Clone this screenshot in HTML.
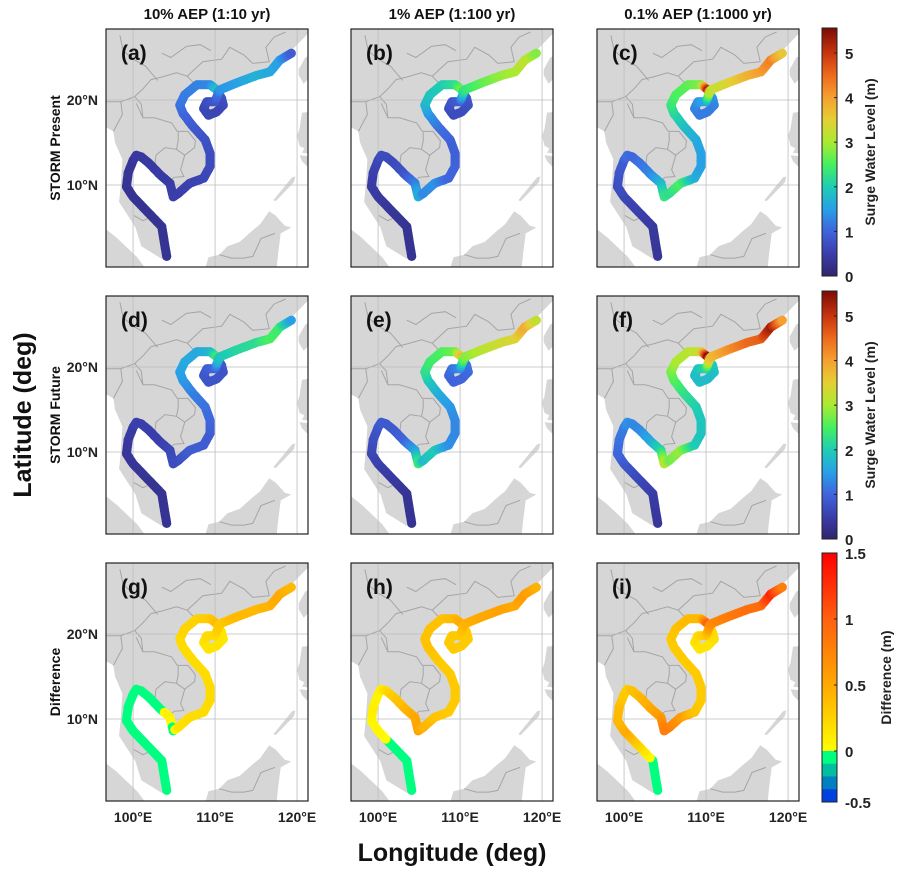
<!DOCTYPE html>
<html><head><meta charset="utf-8"><style>
body{margin:0;background:#fff}
svg{display:block;font-family:"Liberation Sans",Arial,sans-serif}
</style></head><body>
<svg id="fig" width="905" height="876" viewBox="0 0 905 876" xmlns="http://www.w3.org/2000/svg"></svg>
<script>
// ---- data ----
const trackLon=[104.1,103.5,101.9,100.0,99.2,99.4,100.0,100.4,101.0,101.9,103.3,104.5,104.9,105.5,106.9,108.6,109.4,109.4,108.8,107.3,106.1,105.7,106.3,107.8,109.4,110.2,110.8,111.0,110.2,109.2,108.6,109.0,110.0,110.4,110.6,112.6,115.1,116.7,117.9,119.3];
const trackLat=[1.6,5.1,6.7,8.6,9.8,11.4,12.9,13.5,13.3,12.6,11.2,10.2,8.6,9.0,10.2,10.8,12.2,13.7,15.3,16.9,18.4,19.4,20.6,21.8,21.8,21.2,20.2,19.4,18.6,18.2,19.0,19.8,19.8,20.8,21.2,22.0,22.9,23.3,24.7,25.5];
const valsA=[0.3,0.3,0.3,0.3,0.3,0.35,0.35,0.4,0.4,0.4,0.45,0.45,0.5,0.5,0.55,0.6,0.65,0.7,0.75,0.85,1.0,1.1,1.2,1.25,1.3,1.9,0.8,0.7,0.6,0.6,0.6,0.7,0.8,1.1,1.4,1.5,1.7,1.6,1.5,0.9];
const valsB=[0.3,0.3,0.35,0.4,0.45,0.5,0.6,0.7,0.7,0.65,0.8,1.2,1.7,1.3,1.4,1.0,1.0,0.95,0.95,1.1,1.4,1.7,1.9,2.0,2.2,2.7,0.9,0.8,0.7,0.7,0.7,0.8,0.9,2.0,2.3,2.6,2.9,3.0,3.2,2.8];
const valsC=[0.35,0.4,0.5,0.6,0.7,0.8,0.9,1.1,1.0,1.1,1.3,1.7,2.3,2.2,2.5,1.7,1.5,1.5,1.6,1.8,2.1,2.3,2.5,2.6,2.8,5.2,1.5,1.3,1.2,1.2,1.2,1.4,1.6,3.0,3.2,3.4,3.8,4.0,4.3,3.6];
const valsD=[0.3,0.3,0.3,0.35,0.35,0.4,0.45,0.55,0.5,0.5,0.5,0.6,0.7,0.7,0.9,0.9,0.9,1.0,1.1,1.2,1.4,1.5,1.6,1.6,1.7,2.4,0.9,0.8,0.8,0.8,0.8,0.9,1.0,1.8,1.9,2.1,2.2,2.5,2.4,1.5];
const valsE=[0.3,0.3,0.4,0.5,0.6,0.7,0.8,0.9,0.85,0.85,1.0,1.5,2.4,1.8,2.0,1.4,1.3,1.3,1.4,1.6,1.9,2.2,2.4,2.5,2.7,3.7,1.2,1.1,1.0,1.0,1.0,1.1,1.3,2.5,2.8,3.1,3.3,3.4,3.9,3.2];
const valsF=[0.35,0.45,0.6,0.8,1.0,1.1,1.2,1.4,1.3,1.3,1.6,2.1,3.2,2.7,2.9,2.0,1.9,1.9,2.0,2.2,2.5,2.7,3.0,3.1,3.3,5.5,2.0,1.9,1.8,1.8,1.8,1.9,2.1,3.5,3.7,4.1,4.5,4.6,5.3,4.0];
const valsG=[-0.05,-0.05,-0.05,-0.05,-0.05,-0.05,-0.05,-0.05,-0.05,-0.05,-0.05,0.1,-0.05,0.15,0.2,0.2,0.2,0.2,0.2,0.2,0.2,0.2,0.25,0.25,0.3,0.4,0.15,0.15,0.15,0.15,0.15,0.2,0.2,0.3,0.3,0.4,0.4,0.45,0.5,0.4];
const valsH=[-0.05,-0.05,-0.05,0.05,0.05,0.1,0.05,0.1,0.2,0.3,0.4,0.5,0.55,0.45,0.35,0.3,0.3,0.3,0.3,0.3,0.35,0.35,0.35,0.35,0.4,0.5,0.3,0.3,0.3,0.3,0.3,0.3,0.3,0.4,0.45,0.5,0.55,0.5,0.6,0.45];
const valsI=[-0.05,-0.05,0.2,0.5,0.4,0.4,0.3,0.3,0.35,0.4,0.5,0.6,0.8,0.8,0.6,0.35,0.3,0.3,0.3,0.3,0.3,0.3,0.35,0.4,0.4,1.0,0.2,0.2,0.15,0.15,0.15,0.2,0.3,0.6,0.7,0.8,0.9,0.9,1.3,0.8];
const colTitles=["10% AEP (1:10 yr)","1% AEP (1:100 yr)","0.1% AEP (1:1000 yr)"];
const rowTitles=["STORM Present","STORM Future","Difference"];
const lonTicks=[100,110,120];
const latTicks=[10,20];
const surgeTicks=[0,1,2,3,4,5];
const diffTicks=[-0.5,0,0.5,1,1.5];

const NS="http://www.w3.org/2000/svg";
const svg=document.getElementById('fig');
function mk(tag,attrs,parent){const e=document.createElementNS(NS,tag);for(const k in attrs)e.setAttribute(k,attrs[k]);(parent||svg).appendChild(e);return e;}

const colX=[106,351,597], rowY=[29,296,563], PW=202, PH=238;
const LON0=96.7, LAT1=28.35, KX=8.2, KY=8.5;

const surgeStops=[[0,[48,36,110]],[0.09,[58,62,170]],[0.18,[64,100,220]],[0.27,[40,160,232]],[0.36,[30,205,180]],[0.45,[70,240,95]],[0.54,[170,234,48]],[0.63,[229,207,53]],[0.72,[245,160,48]],[0.81,[236,106,28]],[0.9,[200,52,14]],[1,[122,11,4]]];
function lerpStops(stops,t){t=Math.max(0,Math.min(1,t));for(let i=1;i<stops.length;i++){if(t<=stops[i][0]){const a=stops[i-1],b=stops[i];const f=(t-a[0])/(b[0]-a[0]);return 'rgb('+a[1].map((c,j)=>Math.round(c+(b[1][j]-c)*f)).join(',')+')';}}const l=stops[stops.length-1][1];return 'rgb('+l.join(',')+')';}
function surgeColor(v){return lerpStops(surgeStops,v/5.56);}
const diffPos=[[0,[255,255,0]],[0.17,[255,210,0]],[0.33,[255,170,0]],[0.67,[255,95,15]],[1,[255,0,0]]];
function diffColor(v){if(v>=0)return lerpStops(diffPos,v/1.5);if(v>-0.125)return 'rgb(0,255,128)';if(v>-0.25)return 'rgb(0,190,160)';if(v>-0.375)return 'rgb(0,128,192)';return 'rgb(0,64,224)';}

const mainland=[[96.7,28.6],[121.5,28.6],[121.5,28],[119.5,26],[117,23.5],[114,22.3],[111,21.5],[110.4,20.9],[110.2,20.3],[109.7,21.2],[108,21.6],[106.5,20.5],[105.8,19],[106.5,17.5],[108,16],[109.2,13.5],[109.2,11.5],[108,10.8],[106.8,10.3],[105,8.6],[104.8,10.3],[103,11],[102.5,12.2],[100.9,13.4],[100,13.5],[99.9,12],[99.2,10],[100.2,8.5],[101.5,6.8],[103.4,4.8],[104.2,1.4],[103.5,1.3],[101,2.8],[100.3,5],[98.3,8],[98.5,10],[98.7,13],[97.8,15],[97.6,16.3],[96.7,16.8]];
const sumatra=[[96.7,4.8],[98,3.8],[100.5,1.5],[101.5,0.2],[96.7,0.2]];
const borneo=[[108.8,0.2],[109.2,1.5],[110.5,1.8],[111.5,2.8],[113,3.3],[114.5,4.6],[115.5,5.4],[116.6,6.9],[117.4,6.4],[118.5,5.2],[119.3,5.0],[118,4.3],[117.7,2],[117.5,0.2]];
const palawan=[[117.1,8.2],[117.4,8.1],[119.6,10.3],[119.8,11.0],[119.4,10.9]];
const luzon=[[121.5,18.6],[120.6,18.5],[120.3,16.6],[120.0,15.8],[120.3,14.6],[120.9,14.3],[120.6,13.8],[121.5,13.7]];
const mindoro=[[120.3,13.5],[121.3,13.4],[121.5,12.5],[121.2,12.2],[120.6,12.8]];
const taiwan=[[121.5,25.2],[121.0,25.0],[120.2,23.6],[120.2,22.9],[120.8,21.9],[121.5,22.6]];
const borders=[
 [[96.7,19.8],[98.5,19.8],[100.2,20.4],[101.2,21.3],[102.2,22.4],[103.5,22.7],[105.3,23.2],[106.6,22.8],[107.8,21.6]],
 [[100.2,20.4],[101,19.5],[101.2,17.9],[102.6,17.9],[104.7,17.3],[105.4,16.3],[106.7,16.3],[107.6,15.2],[107.5,14.4],[106.3,13.5],[105.8,11.8],[106.2,11.0],[105,10.9],[104.4,10.4]],
 [[101.2,17.9],[100.4,19.6]],
 [[102.6,12.0],[102.8,13.5],[103.9,14.4],[105.3,14.2],[106.3,13.5]],
 [[105.3,14.2],[105.5,15.2],[105.5,16.2]],
 [[98.5,19.8],[98.7,18.3],[97.6,16.3]],
 [[100.1,6.4],[101.2,5.8],[102.1,6.2]],
 [[103,22.3],[101.5,24],[100,24.8],[98.8,25.8],[98.4,27.6]],
 [[106.6,22.8],[108.5,24.5],[110.8,24.8],[111.8,26.2],[113.5,25.3],[114.6,24.3],[116.6,24.5],[116.2,26.2],[117.2,27.4],[118.6,28]],
 [[109.5,25.8],[108.2,26.5],[106.5,26.3],[104.6,25],[103.5,25.5]],
 [[110.5,1.8],[112,1.4],[113.5,1.4],[114.6,1.6],[115.6,3.7],[117.3,4.3]]
];

const panelVals=[[valsA,valsB,valsC],[valsD,valsE,valsF],[valsG,valsH,valsI]];
const letters=[["(a)","(b)","(c)"],["(d)","(e)","(f)"],["(g)","(h)","(i)"]];

const defs=mk('defs',{});
for(let r=0;r<3;r++)for(let c=0;c<3;c++){
  const px=colX[c],py=rowY[r];
  const X=lon=>px+(lon-LON0)*KX, Y=lat=>py+(LAT1-lat)*KY;
  const cp=mk('clipPath',{id:'cp'+r+c},defs);mk('rect',{x:px,y:py,width:PW,height:PH},cp);
  const g=mk('g',{'clip-path':'url(#cp'+r+c+')'});
  
  
  mk('rect',{x:px,y:py,width:PW,height:PH,fill:'#fff'},g);
  const landG=mk('g',{fill:'#d6d6d6',stroke:'none'},g);
  
  
  [mainland,sumatra,borneo,palawan,luzon,mindoro,taiwan].forEach(poly=>{mk('polygon',{points:poly.map(p=>X(p[0]).toFixed(1)+','+Y(p[1]).toFixed(1)).join(' ')},landG);});
  mk('ellipse',{cx:X(109.7),cy:Y(19.2),rx:1.1*KX,ry:0.8*KY},landG);
  borders.forEach(b=>{mk('polyline',{points:b.map(p=>X(p[0]).toFixed(1)+','+Y(p[1]).toFixed(1)).join(' '),fill:'none',stroke:'#a5a5a5','stroke-width':1},g);});
  lonTicks.forEach(l=>mk('line',{x1:X(l),x2:X(l),y1:py,y2:py+PH,stroke:'#bdbdbd','stroke-width':0.8},g));
  latTicks.forEach(l=>mk('line',{x1:px,x2:px+PW,y1:Y(l),y2:Y(l),stroke:'#bdbdbd','stroke-width':0.8},g));
  const vals=panelVals[r][c];
  const cf=r<2?surgeColor:diffColor;
  const tg=mk('g',{},g);
  
  
  for(let i=0;i<trackLon.length-1;i++){
    const x0=X(trackLon[i]),y0=Y(trackLat[i]),x1=X(trackLon[i+1]),y1=Y(trackLat[i+1]);
    const n=Math.max(1,Math.ceil(Math.hypot(x1-x0,y1-y0)/2));
    for(let k=0;k<n;k++){const f=k/n;const v=vals[i]+(vals[i+1]-vals[i])*f;
      mk('circle',{cx:(x0+(x1-x0)*f).toFixed(1),cy:(y0+(y1-y0)*f).toFixed(1),r:4.6,fill:cf(v)},tg);}
  }
  const last=trackLon.length-1;
  mk('circle',{cx:X(trackLon[last]),cy:Y(trackLat[last]),r:4.6,fill:cf(vals[last])},tg);
  const box=mk('rect',{x:px,y:py,width:PW,height:PH,fill:'none',stroke:'#222','stroke-width':1.2});
  
  
  const lt=mk('text',{x:px+15,y:py+31,'font-size':21,'font-weight':'bold',fill:'#111'});lt.textContent=letters[r][c];
  
  
  if(c===0){latTicks.forEach(l=>{const t=mk('text',{x:px-8,y:Y(l)+5,'font-size':14,'font-weight':'bold','text-anchor':'end',fill:'#222'});t.textContent=l+'°N';
    
    });}
  if(r===2){lonTicks.forEach(l=>{const t=mk('text',{x:X(l),y:py+PH+21,'font-size':14,'font-weight':'bold','text-anchor':'middle',fill:'#222'});t.textContent=l+'°E';
    
    });}
}
colTitles.forEach((s,c)=>{const t=mk('text',{x:colX[c]+PW/2,y:19,'font-size':15,'font-weight':'bold','text-anchor':'middle',fill:'#111'});t.textContent=s;
  
  });
rowTitles.forEach((s,r)=>{const cy=rowY[r]+PH/2,cx=60;const t=mk('text',{x:cx,y:cy,'font-size':14,'font-weight':'bold','text-anchor':'middle',fill:'#111',transform:'rotate(-90 '+cx+' '+cy+')'});t.textContent=s;
  
  });
{const t=mk('text',{x:31,y:415,'font-size':25,'font-weight':'bold','text-anchor':'middle',fill:'#111',transform:'rotate(-90 31 415)'});t.textContent='Latitude (deg)';
 
 }
{const t=mk('text',{x:452,y:861,'font-size':25,'font-weight':'bold','text-anchor':'middle',fill:'#111'});t.textContent='Longitude (deg)';
 
 }

const cbX=822,cbW=15;
const gr=mk('linearGradient',{id:'surgeGrad',x1:0,y1:1,x2:0,y2:0},defs);
surgeStops.forEach(s=>mk('stop',{offset:s[0],'stop-color':lerpStops(surgeStops,s[0])},gr));
[[28,276],[291,539]].forEach((cb,i)=>{
  const[top,bot]=cb;
  const rct=mk('rect',{x:cbX,y:top,width:cbW,height:bot-top,fill:'url(#surgeGrad)',stroke:'#222','stroke-width':1});
  
  
  const sc=v=>bot-v/5.56*(bot-top);
  surgeTicks.forEach(v=>{mk('line',{x1:cbX+cbW-3,x2:cbX+cbW,y1:sc(v),y2:sc(v),stroke:'#222'});
    const t=mk('text',{x:845,y:sc(v)+6,'font-size':15,'font-weight':'bold',fill:'#222'});t.textContent=v;
    
    });
  const cy=(top+bot)/2;const t=mk('text',{x:875,y:cy,'font-size':14,'font-weight':'bold','text-anchor':'middle',fill:'#222',transform:'rotate(-90 875 '+cy+')'});t.textContent='Surge Water Level (m)';
  
  
});
const dTop=553,dZero=751,dBot=802;
const dsc=v=>v>=0?dZero-v/1.5*(dZero-dTop):dZero+(-v)/0.5*(dBot-dZero);
{const dg=mk('linearGradient',{id:'diffGrad',x1:0,y1:1,x2:0,y2:0},defs);
 diffPos.forEach(s=>mk('stop',{offset:s[0],'stop-color':lerpStops(diffPos,s[0])},dg));
 const a=mk('rect',{x:cbX,y:dTop,width:cbW,height:dZero-dTop,fill:'url(#diffGrad)'});
 
 
 [-0.0625,-0.1875,-0.3125,-0.4375].forEach((v,k)=>{const y0=dsc(v+0.0625);mk('rect',{x:cbX,y:y0,width:cbW,height:(dBot-dZero)/4+0.3,fill:diffColor(v)});});
 const b=mk('rect',{x:cbX,y:dTop,width:cbW,height:dBot-dTop,fill:'none',stroke:'#222'});
 
 
 diffTicks.forEach(v=>{mk('line',{x1:cbX+cbW-3,x2:cbX+cbW,y1:dsc(v),y2:dsc(v),stroke:'#222'});
   const t=mk('text',{x:845,y:dsc(v)+6,'font-size':15,'font-weight':'bold',fill:'#222'});t.textContent=v;
   
   });
 const cy=(dTop+dBot)/2;const t=mk('text',{x:891,y:cy,'font-size':14,'font-weight':'bold','text-anchor':'middle',fill:'#222',transform:'rotate(-90 891 '+cy+')'});t.textContent='Difference (m)';
 
 }
</script>
</body></html>
